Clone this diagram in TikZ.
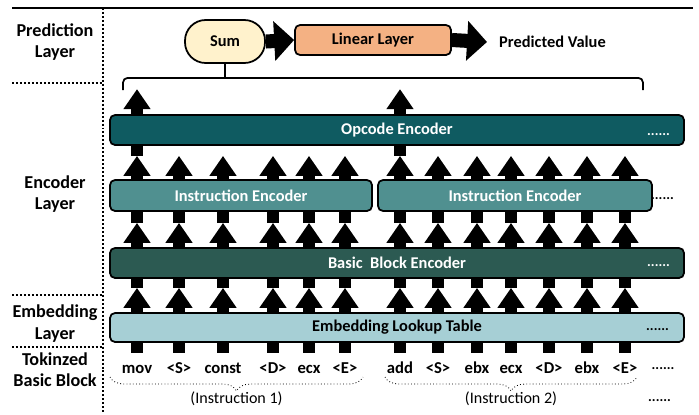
\documentclass[tikz,border=0pt]{standalone}
\usepackage{fontspec}
\setmainfont{Carlito}
\usepackage{xcolor}
\usetikzlibrary{arrows.meta,calc,decorations.pathreplacing}

\definecolor{sumcol}{HTML}{FFF2CC}
\definecolor{lincol}{HTML}{F4B183}
\definecolor{opccol}{HTML}{0F5B61}
\definecolor{inscol}{HTML}{509090}
\definecolor{bbcol}{HTML}{2C5A52}
\definecolor{embcol}{HTML}{A6CFD5}

\tikzstyle{boxes} = [rectangle, rounded corners=0.15cm, draw=black, line width=1.5pt,
text centered, font=\bfseries\fontsize{14}{16}\selectfont]
\tikzstyle{lab} = [align=center, font=\bfseries\fontsize{15.5}{18.4}\selectfont]
\tikzstyle{tok} = [inner sep=0pt, font=\bfseries\fontsize{14.2}{17}\selectfont]
\tikzstyle{dots} = [inner sep=0pt, font=\bfseries\fontsize{12}{14}\selectfont]
\tikzstyle{sep} = [line width=1.7pt, dash pattern=on 1.7pt off 1.7pt]
\tikzstyle{uparr} = [line width=10pt, -{Triangle[width=22pt,length=17pt]}]
\tikzstyle{stub} = [line width=10pt]
\tikzstyle{bigarr} = [line width=12pt, -{Triangle[width=33pt,length=17pt]}]
\tikzstyle{ibrace} = [decorate, decoration={brace, mirror, amplitude=0.42cm}, dotted, line width=0.7pt]

\begin{document}
\begin{tikzpicture}[x=0.03cm, y=-0.03cm]
        \useasboundingbox (0,0) rectangle (699,414);

        % Layer separators
        \draw[line width=1.2pt] (12,8) -- (693,8);
        \draw[sep] (103,8) -- (103,414);
        \draw[sep] (12,83) -- (103,83);
        \draw[sep] (12,295) -- (103,295);
        \draw[sep] (12,347) -- (103,347);

        \node[lab] at (55,42) (lpred) {Prediction\\Layer};
        \node[lab] at (55,194) (lenc) {Encoder\\Layer};
        \node[lab] at (55,323.5) (lemb) {Embedding\\Layer};
        \node[lab] at (55,369.5) (ltok) {Tokinzed\\Basic Block};

        % Prediction layer
        \node[boxes, fill=sumcol, rounded corners=0.62cm, minimum width=2.4cm, minimum height=1.29cm] at (225,41.5) (sum) {Sum};
        \node[boxes, fill=lincol, minimum width=4.68cm, minimum height=0.9cm] at (373,40) (lin) {Linear Layer};
        \node[anchor=west, inner sep=0pt, font=\bfseries\fontsize{14}{16}\selectfont] at (499,42) (pv) {Predicted Value};

        \draw[bigarr] (sum.east) -- (lin.west);
        \draw[bigarr] (lin.east) -- ($(pv.west)+(-12,0)$);

        % Encoder and embedding boxes
        \node[boxes, fill=opccol, text=white, minimum width=17.22cm, minimum height=0.9cm] at (397,130) (opc) {Opcode Encoder};
        \node[boxes, fill=inscol, text=white, minimum width=7.86cm, minimum height=0.93cm] at (241,195.5) (ie1) {Instruction Encoder};
        \node[boxes, fill=inscol, text=white, minimum width=8.22cm, minimum height=0.93cm] at (515,195.5) (ie2) {Instruction Encoder};
        \node[boxes, fill=bbcol, text=white, minimum width=17.22cm, minimum height=0.9cm] at (397,263) (bb) {Basic~ Block Encoder};
        \node[boxes, fill=embcol, minimum width=17.22cm, minimum height=0.87cm] at (397,327.5) (emb) {Embedding Lookup Table};

        \node[dots, text=white, anchor=east] at (670,135) (opcdots) {......};
        \node[dots, anchor=west] at (651,199) (iedots) {......};
        \node[dots, text=white, anchor=east] at (670,266) (bbdots) {......};
        \node[dots] at (657.5,330) (embdots) {......};

        % Tokens
        \foreach \x/\t [count=\i] in {137/mov,179/<S>,223/const,273/<D>,309/ecx,345/<E>,
            400/add,438/<S>,477/ebx,511/ecx,549/<D>,587/ebx,625/<E>}
            \node[tok, anchor=base] at (\x,373) (tok\i) {\t};
        \node[dots] at (663,369) (tokdots) {......};
        \node[dots] at (659.5,401) (insdots) {......};

        % Arrows between the layers
        \foreach \i in {1,...,13} {
            \draw[stub] (tok\i |- emb.south) -- ++(0,10);
            \draw[uparr] (tok\i |- emb.north) -- ($(tok\i |- bb.south)+(0,9)$);
            \draw[stub] (tok\i |- bb.south) -- ++(0,9);
            \draw[uparr] (tok\i |- bb.north) -- ($(tok\i |- ie1.south)+(0,11)$);
            \draw[stub] (tok\i |- ie1.south) -- ++(0,11);
            \draw[uparr] (tok\i |- ie1.north) -- ($(tok\i |- opc.south)+(0,10)$);
        }
        \foreach \i in {1,7} {
            \draw[stub] (tok\i |- opc.south) -- ++(0,10);
            \draw[uparr] (tok\i |- opc.north) -- ++(0,-25);
        }

        % Brace to the sum
        \draw[line width=1.5pt] (sum.south) -- ++(0,14) coordinate (bmid);
        \coordinate (bl) at (123,90);
        \coordinate (br) at (643,90);
        \draw[line width=1.5pt, rounded corners=4] (bl) |- (bmid) -| (br);

        % Instruction braces
        \draw[ibrace] (110,377) -- (363,377) node[midway, below=0.42cm, inner sep=0pt, font=\fontsize{13.7}{16}\selectfont] (ins1) {(Instruction 1)};
        \draw[ibrace] (385,377) -- (637,377) node[midway, below=0.42cm, inner sep=0pt, font=\fontsize{13.7}{16}\selectfont] (ins2) {(Instruction 2)};
    \end{tikzpicture}
\end{document}
